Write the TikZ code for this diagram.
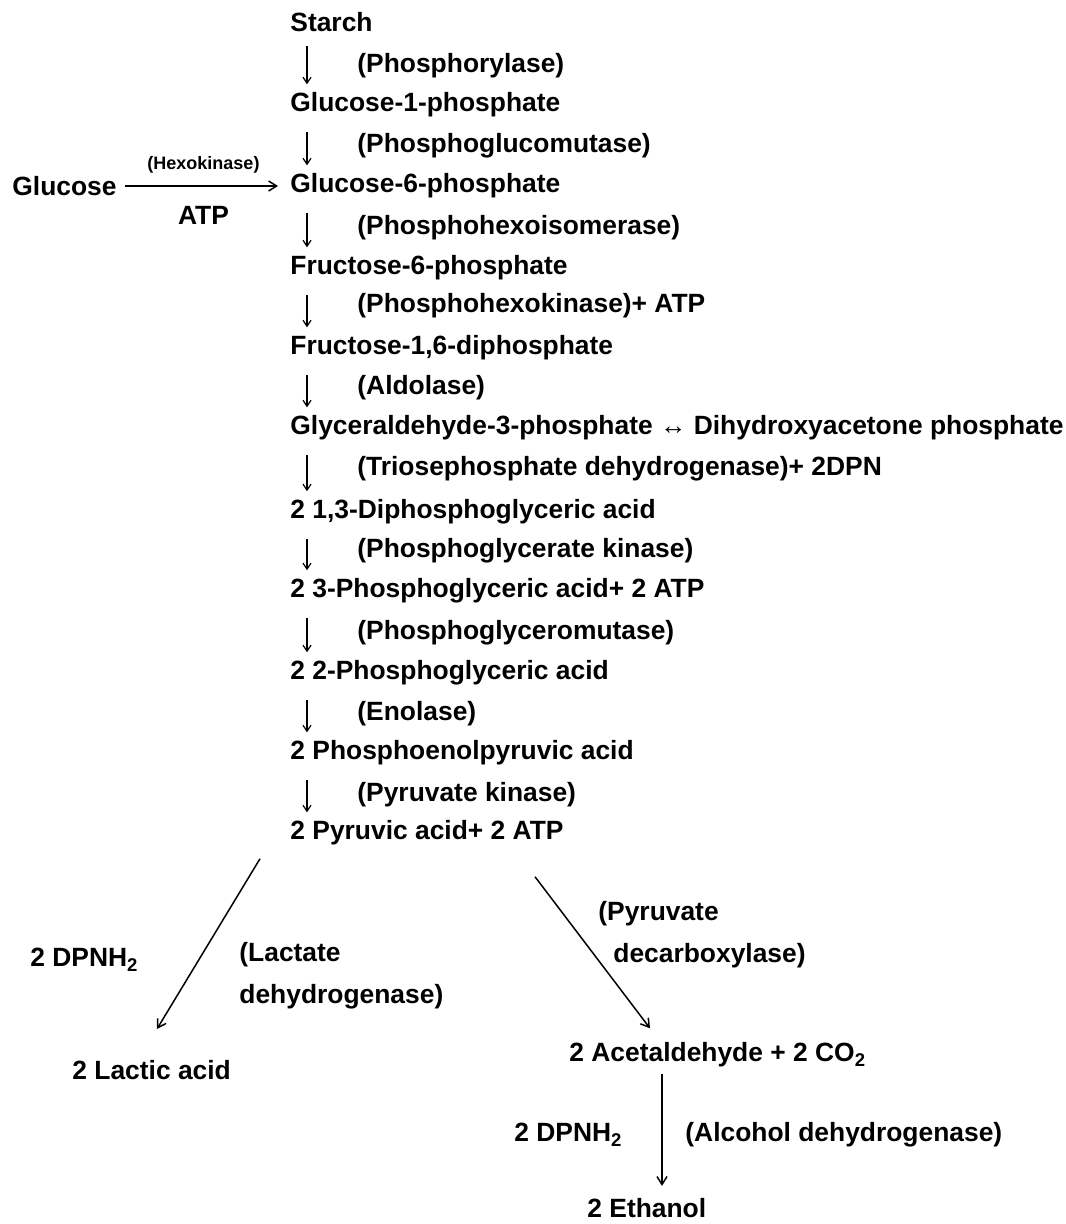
\documentclass[tikz,border=0pt]{standalone}
\usepackage{fontspec}
\setmainfont{Liberation Sans}
\usetikzlibrary{positioning, arrows.meta, calc}

\begin{document}
\begin{tikzpicture}[x=0.5pt,y=-0.5pt,
    met/.style={anchor=west,inner sep=1pt,font=\fontsize{13.2}{21}\selectfont\bfseries},
    enz/.style={met},
    small/.style={inner sep=1pt,font=\fontsize{9}{10}\selectfont\bfseries},
    dn/.style={-{Straight Barb[length=3pt,width=4pt]},line width=0.6pt},
    conv/.style={-{Straight Barb[length=4pt,width=5pt]},line width=0.75pt}]
    \useasboundingbox (0,0) rectangle (1065,1224);
    % main pathway
    \node[met] (starch) at (288,22)  {Starch};
    \node[enz] (e_1)    at (355,66)  {(Phosphorylase)};
    \node[met] (g1p)    at (288,105) {Glucose-1-phosphate};
    \node[enz] (e_2)    at (355,146) {(Phosphoglucomutase)};
    \node[met] (g6p)    at (288,186) {Glucose-6-phosphate};
    \node[enz] (e_3)    at (355,228) {(Phosphohexoisomerase)};
    \node[met] (f6p)    at (288,268) {Fructose-6-phosphate};
    \node[enz] (e_4)    at (355,306) {(Phosphohexokinase)+ ATP};
    \node[met] (fdp)    at (288,348) {Fructose-1,6-diphosphate};
    \node[enz] (e_5)    at (355,388) {(Aldolase)};
    \node[met] (gap)    at (288,428) {Glyceraldehyde-3-phosphate ↔ Dihydroxyacetone phosphate};
    \node[enz] (e_6)    at (355,469) {(Triosephosphate dehydrogenase)+ 2DPN};
    \node[met] (dpg)    at (288,512) {2 1,3-Diphosphoglyceric acid};
    \node[enz] (e_7)    at (355,551) {(Phosphoglycerate kinase)};
    \node[met] (pga3)   at (288,591) {2 3-Phosphoglyceric acid+ 2 ATP};
    \node[enz] (e_8)    at (355,633) {(Phosphoglyceromutase)};
    \node[met] (pga2)   at (288,673) {2 2-Phosphoglyceric acid};
    \node[enz] (e_9)    at (355,714) {(Enolase)};
    \node[met] (pep)    at (288,753) {2 Phosphoenolpyruvic acid};
    \node[enz] (e_10)   at (355,795) {(Pyruvate kinase)};
    \node[met] (pyr)    at (288,833) {2 Pyruvic acid+ 2 ATP};
    \foreach \a/\b in {starch/g1p,g1p/g6p,g6p/f6p,f6p/fdp,fdp/gap,gap/dpg,dpg/pga3,pga3/pga2,pga2/pep,pep/pyr}
        \draw[dn] ($(\a.south west)+(19,12)$) -- ($(\b.north west)+(19,-6)$);
    % glucose entry
    \node[met] (glc) at (10,186) {Glucose};
    \draw[conv,shorten <=3pt,shorten >=5pt] (glc) -- (g6p)
        node[midway,above=5pt,small] {(Hexokinase)}
        node[midway,below=9pt,met,anchor=north] {ATP};
    % lactic branch
    \node[met] (dpnh_1)  at (28,960)  {2 DPNH\textsubscript{2}};
    \node[met,align=left] (ldh) at (237,976) {(Lactate\\dehydrogenase)};
    \node[met] (lactic)  at (70,1070) {2 Lactic acid};
    \draw[conv] ($(pyr.south west)+(-28,11)$) -- ($(lactic.north west)+(87,-29)$);
    % ethanol branch
    \node[met,align=left] (pdc) at (596,935) {(Pyruvate\\\hspace*{7.5pt}decarboxylase)};
    \node[met] (acet)    at (567,1055) {2 Acetaldehyde + 2 CO\textsubscript{2}};
    \draw[conv] ($(pyr.south west)+(247,29)$) -- ($(acet.north west)+(83,-12)$);
    \node[met] (dpnh_2)  at (512,1135) {2 DPNH\textsubscript{2}};
    \node[met] (adh)     at (683,1135) {(Alcohol dehydrogenase)};
    \node[met] (etoh)    at (585,1208) {2 Ethanol};
    \draw[conv] ($(acet.south west)+(95,4)$) -- ($(etoh.north west)+(77,-10)$);
\end{tikzpicture}
\end{document}
